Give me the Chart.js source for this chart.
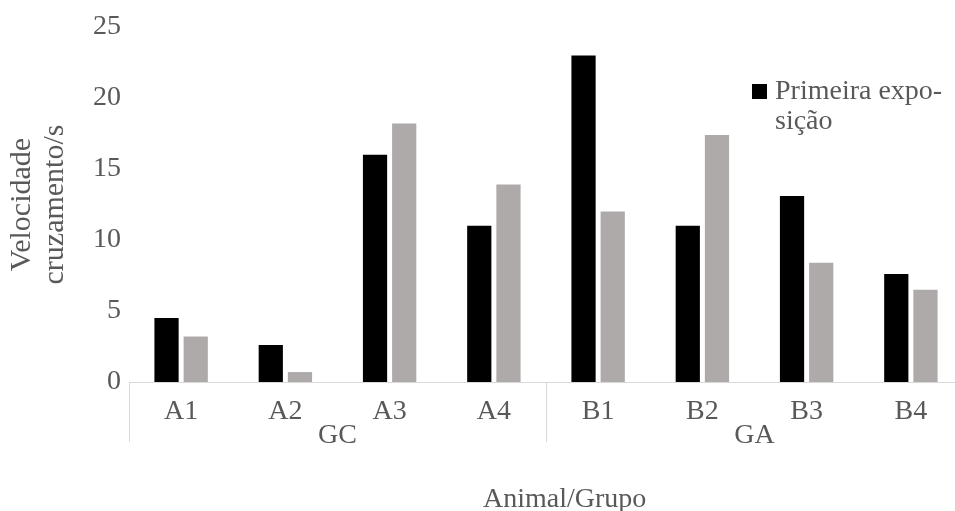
<!DOCTYPE html>
<html>
<head>
<meta charset="utf-8">
<script src="https://cdn.jsdelivr.net/npm/chart.js@4"></script>
<style>
html,body{margin:0;padding:0;background:#fff;overflow:hidden;}
#wrap{position:relative;width:963px;height:511px;}
</style>
</head>
<body>
<div id="wrap"><canvas id="chart"></canvas></div>
<script>
// values
const categories = ["A1","A2","A3","A4","B1","B2","B3","B4"];
const groups = ["GC","GA"];
const groupSizes = [4,4];
const firstExposure = [4.5,2.6,16.0,11.0,23.0,11.0,13.1,7.6];
const secondExposure = [3.2,0.7,18.2,13.9,12.0,17.4,8.4,6.5];
const yTicks = [0,5,10,15,20,25];
const legendLines = ["Primeira expo-","sição"];
const xTitle = "Animal/Grupo";
const yTitle = ["Velocidade","cruzamento/s"];

const FONT = "'Liberation Serif','Times New Roman',serif";
const TEXT = "#595959";
const LINE = "#d9d9d9";

// group labels under the category ticks + separator lines + axis title
const groupAxis = {
id:"groupAxis",
afterDraw(chart){
const x=chart.scales.x;
const ctx=chart.ctx;
const step=x.getPixelForValue(1)-x.getPixelForValue(0);
const y0=chart.chartArea.bottom;
ctx.save();
ctx.strokeStyle=LINE;
ctx.lineWidth=1;
ctx.fillStyle=TEXT;
ctx.font="28px "+FONT;
ctx.textAlign="center";
ctx.textBaseline="alphabetic";
let start=0;
for(let g=0;g<groups.length;g++){
const left=x.getPixelForValue(start)-step/2;
const right=x.getPixelForValue(start+groupSizes[g]-1)+step/2;
ctx.beginPath();
ctx.moveTo(Math.round(left)+0.5,y0);
ctx.lineTo(Math.round(left)+0.5,y0+60);
ctx.moveTo(Math.round(right)+0.5,y0);
ctx.lineTo(Math.round(right)+0.5,y0+60);
ctx.stroke();
ctx.fillText(groups[g],(left+right)/2,y0+61);
start+=groupSizes[g];
}
ctx.textAlign="left";
ctx.fillText(xTitle,483,507);
ctx.restore();
}
};

// legend drawn inside the plot, only the first series shows
const innerLegend = {
id:"innerLegend",
afterDraw(chart){
const ctx=chart.ctx;
const ds=chart.data.datasets[0];
ctx.save();
ctx.fillStyle=ds.backgroundColor;
ctx.fillRect(752,84,15,15);
ctx.fillStyle=TEXT;
ctx.font="28px "+FONT;
ctx.textAlign="left";
ctx.textBaseline="alphabetic";
legendLines.forEach((t,i)=>ctx.fillText(t,775,99+i*30));
ctx.restore();
}
};

new Chart(document.getElementById("chart"),{
type:"bar",
data:{
labels:categories,
datasets:[{
label:"Primeira exposição",
data:firstExposure,
backgroundColor:"#000000",
barPercentage:0.83,
categoryPercentage:0.56
},{
label:"Segunda exposição",
data:secondExposure,
backgroundColor:"#aeaaaa",
barPercentage:0.83,
categoryPercentage:0.56
}]
},
options:{
responsive:true,
maintainAspectRatio:false,
animation:false,
layout:{padding:{left:0,right:0,top:27,bottom:0}},
plugins:{legend:{display:false},tooltip:{enabled:false}},
scales:{
x:{
grid:{display:false},
border:{display:true,color:LINE,width:1},
ticks:{color:TEXT,font:{family:FONT,size:28,lineHeight:1.2},padding:5,maxRotation:0},
afterFit(s){s.height=129;}
},
y:{
min:0,max:25,
grid:{display:false,drawTicks:false},
border:{display:false},
afterBuildTicks(s){s.ticks=yTicks.map(v=>({value:v}));},
ticks:{color:TEXT,font:{family:FONT,size:28},padding:8},
title:{display:true,text:yTitle,color:TEXT,font:{family:FONT,size:30,lineHeight:1.1},padding:{top:6,bottom:0}},
afterFit(s){s.width=129;}
}
}
},
plugins:[groupAxis,innerLegend]
});
</script>
</body>
</html>
